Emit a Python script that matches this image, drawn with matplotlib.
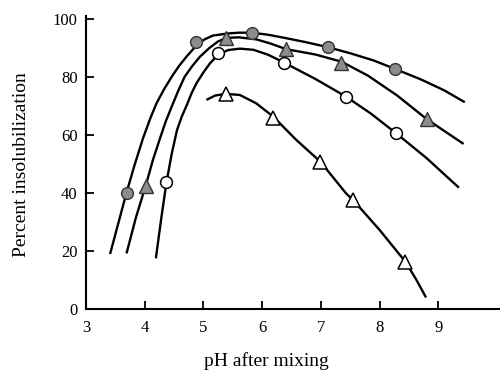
import matplotlib
matplotlib.use("Agg")
import matplotlib.pyplot as plt

# Measured marker positions (pH after mixing, percent insolubilization)
filled_circle_x = [3.70, 4.88, 5.82, 7.12, 8.26]
filled_circle_y = [40.0, 92.0, 95.3, 90.3, 82.8]

filled_tri_x = [4.02, 5.39, 6.41, 7.35, 8.80]
filled_tri_y = [42.5, 93.5, 89.5, 85.0, 65.5]

open_circle_x = [4.37, 5.25, 6.38, 7.43, 8.28]
open_circle_y = [43.6, 88.2, 84.9, 73.2, 60.6]

open_tri_x = [5.38, 6.19, 6.99, 7.55, 8.44]
open_tri_y = [74.0, 66.0, 50.5, 37.5, 16.0]

# Fitted curves
curve_a_x = [3.41, 3.55, 3.69, 3.83, 3.97, 4.10, 4.20, 4.33, 4.46, 4.58, 4.71, 4.88, 5.02, 5.16, 5.40, 5.60, 5.82, 6.10, 6.41, 6.75, 7.12, 7.50, 7.90, 8.26, 8.70, 9.10, 9.45]
curve_a_y = [18.9, 29.5, 40.1, 49.8, 58.8, 66.0, 70.9, 75.8, 80.1, 83.7, 87.0, 90.9, 93.0, 94.3, 95.0, 95.3, 95.3, 94.6, 93.4, 92.0, 90.3, 88.2, 85.7, 82.8, 79.2, 75.4, 71.3]

curve_b_x = [3.69, 3.85, 4.02, 4.14, 4.26, 4.36, 4.46, 4.57, 4.68, 4.81, 4.94, 5.10, 5.25, 5.39, 5.60, 5.90, 6.15, 6.41, 6.90, 7.35, 7.80, 8.30, 8.80, 9.10, 9.43]
curve_b_y = [19.1, 31.5, 42.7, 51.4, 58.8, 64.8, 69.8, 75.2, 80.1, 83.8, 87.0, 90.0, 92.3, 93.5, 93.7, 93.0, 91.5, 89.6, 87.8, 85.3, 80.5, 73.6, 65.5, 61.4, 56.9]

curve_c_x = [4.19, 4.28, 4.37, 4.46, 4.55, 4.63, 4.72, 4.80, 4.88, 5.00, 5.11, 5.25, 5.42, 5.62, 5.85, 6.10, 6.38, 6.90, 7.43, 7.85, 8.28, 8.80, 9.35]
curve_c_y = [17.4, 31.0, 43.6, 53.5, 61.7, 66.3, 70.5, 74.5, 77.8, 81.6, 84.7, 87.7, 89.3, 89.8, 89.4, 87.7, 84.9, 79.4, 73.2, 67.4, 60.6, 52.0, 41.8]

curve_d_x = [5.05, 5.20, 5.38, 5.62, 5.90, 6.19, 6.58, 6.99, 7.43, 7.55, 8.00, 8.44, 8.62, 8.79]
curve_d_y = [72.1, 73.6, 74.2, 73.8, 70.9, 66.3, 58.3, 50.8, 39.8, 37.5, 27.2, 16.2, 10.2, 3.9]

x_ticks = [3, 4, 5, 6, 7, 8, 9]
y_ticks = [0, 20, 40, 60, 80, 100]

plt.rcParams['font.family'] = ['Liberation Serif', 'DejaVu Serif']

fig = plt.figure(figsize=(5.0, 3.72), dpi=100)
ax = fig.add_axes([0.172, 0.170, 0.828, 0.7865])

lw = 1.7
for cx, cy in [(curve_a_x, curve_a_y), (curve_b_x, curve_b_y),
               (curve_c_x, curve_c_y), (curve_d_x, curve_d_y)]:
    ax.plot(cx, cy, color='black', lw=lw, solid_capstyle='butt', zorder=2)

gray = '#8c8c8c'
ax.plot(filled_circle_x, filled_circle_y, 'o', ms=8.5, mfc=gray, mec='#333333', mew=1.0, zorder=3)
ax.plot(filled_tri_x, filled_tri_y, '^', ms=10, mfc=gray, mec='#333333', mew=1.0, zorder=3)
ax.plot(open_circle_x, open_circle_y, 'o', ms=8.5, mfc='white', mec='black', mew=1.1, zorder=3)
ax.plot(open_tri_x, open_tri_y, '^', ms=10, mfc='white', mec='black', mew=1.1, zorder=3)

ax.set_xlim(3, 10.05)
ax.set_ylim(0, 101)
ax.set_xticks(x_ticks)
ax.set_yticks(y_ticks)
ax.set_xticklabels([str(v) for v in x_ticks])
ax.set_yticklabels([str(v) for v in y_ticks])

for s in ['top', 'right']:
    ax.spines[s].set_visible(False)
for s in ['left', 'bottom']:
    ax.spines[s].set_linewidth(1.5)

ax.tick_params(axis='both', direction='in', length=6, width=1.3, labelsize=12)
ax.tick_params(axis='x', pad=8)
ax.tick_params(axis='y', pad=6)

ax.set_xlabel('pH after mixing', fontsize=14)
ax.xaxis.set_label_coords(0.435, -0.196)
ax.xaxis.label.set_va('baseline')
ax.set_ylabel('Percent insolubilization', fontsize=14)
ax.yaxis.set_label_coords(-0.155, 0.491)
ax.yaxis.label.set_va('center')

fig.savefig('out.png', dpi=100)
